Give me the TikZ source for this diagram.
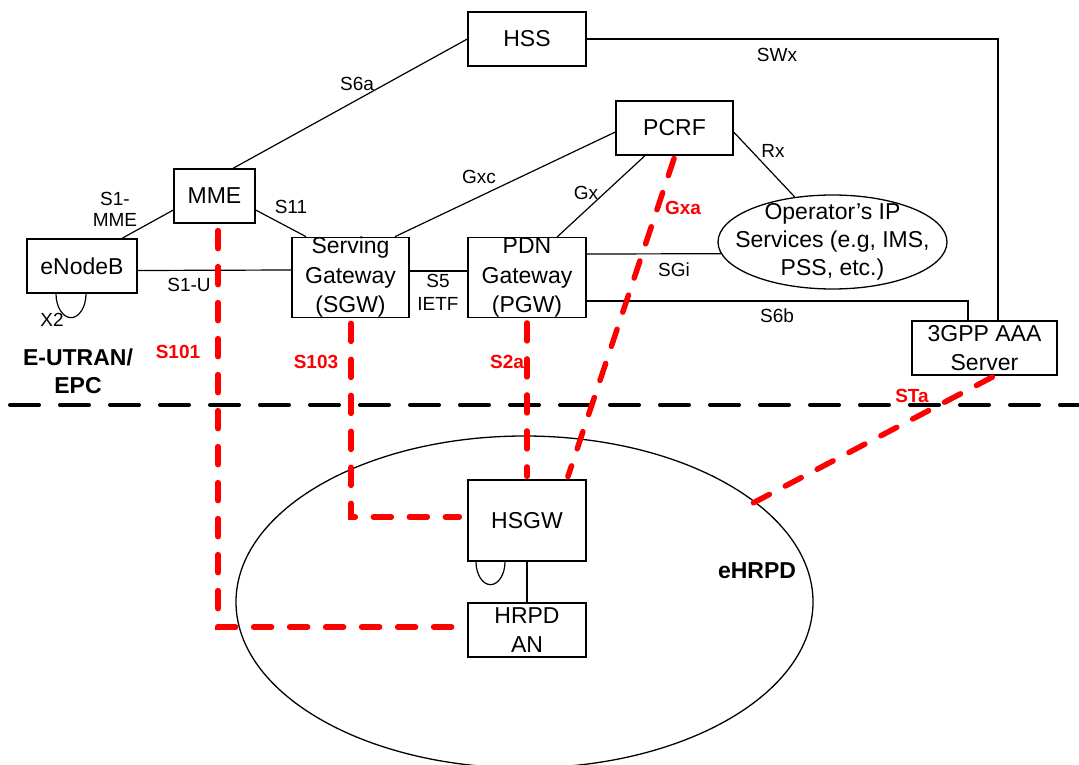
\documentclass[tikz,border=0pt]{standalone}
\usepackage{fontspec}
\setmainfont{Liberation Sans}
\usetikzlibrary{shapes.geometric}
\begin{document}
\begin{tikzpicture}[x=1pt,y=-1pt,
  box/.style={draw, line width=1.3pt, inner sep=0pt, align=center, font=\fontsize{23}{28.5}\selectfont},
  boxtext/.style={inner sep=0pt, align=center, font=\fontsize{23}{28}\selectfont},
  lbl/.style={font=\fontsize{19}{22.5}\selectfont, align=center, inner sep=0pt},
  redlbl/.style={font=\bfseries\fontsize{19}{22}\selectfont, text=red, inner sep=0pt},
  bigbold/.style={font=\bfseries\fontsize{23}{28}\selectfont, align=center, inner sep=0pt},
  link/.style={line width=1.2pt},
  redlink/.style={draw=red, line width=5.5pt, line cap=round, dash pattern=on 18pt off 18pt},
  borderline/.style={line width=4pt, line cap=round, dash pattern=on 29pt off 21pt}]
\useasboundingbox (0,0) rectangle (1079,765);

% regions
\node[draw, ellipse, line width=1.3pt, minimum width=577pt, minimum height=332pt, inner sep=0pt] (ehrpd) at (524.5,602) {};
\coordinate (bl) at (10,405);
\coordinate (br) at (1079,405);
\draw[borderline] (bl) -- (br);

% boxes
\node[box, minimum width=118pt, minimum height=54pt] (hss) at (527,39) {HSS};
\node[box, minimum width=117pt, minimum height=54pt] (pcrf) at (674.5,128) {PCRF};
\node[box, minimum width=81pt, minimum height=54pt] (mme) at (214.5,196) {MME};
\node[box, minimum width=110pt, minimum height=54pt] (enb) at (82,266) {eNodeB};
\node[box, minimum width=117pt, minimum height=79pt, font=\fontsize{23}{29.5}\selectfont] (sgw) at (350.5,277.5) {Serving\\Gateway\\(SGW)};
\node[box, minimum width=118pt, minimum height=79pt, font=\fontsize{23}{29.5}\selectfont] (pgw) at (527,277.5) {PDN\\Gateway\\(PGW)};
\node[box, minimum width=145pt, minimum height=54pt] (aaa) at (984.5,348) {3GPP AAA\\Server};
\node[box, minimum width=118pt, minimum height=81pt] (hsgw) at (527,520.5) {HSGW};
\node[box, minimum width=118pt, minimum height=54pt] (hrpd) at (527,630) {HRPD\\AN};
\node[draw, ellipse, line width=1.3pt, minimum width=229pt, minimum height=94pt, inner sep=0pt] (op) at (832.5,242) {};
\node[boxtext] (optext) at (832.5,242) {Operator’s IP\\Services (e.g, IMS,\\PSS, etc.)};

% black connectors
\draw[link] ([xshift=18.5pt]mme.north) -- (hss.west);
\draw[link] (hss.east) -| ([xshift=13.5pt]aaa.north);
\draw[link] ([yshift=-4pt]pcrf.west) -- ([xshift=44.5pt]sgw.north);
\draw[link] ([xshift=-29.5pt]pcrf.south) -- ([xshift=30pt]pgw.north);
\draw[link] ([yshift=-4pt]pcrf.east) -- (op.130);
\draw[link] ([yshift=-14pt]mme.west) -- ([xshift=40pt]enb.north);
\draw[link] ([yshift=-14pt]mme.east) -- ([xshift=-44.5pt]sgw.north);
\draw[link] ([yshift=-4.5pt]enb.east) -- ([yshift=7.5pt]sgw.west);
\draw[link] ([yshift=6.5pt]sgw.east) -- ([yshift=6.5pt]pgw.west);
\draw[link] ([yshift=23.5pt]pgw.east) -- (op.186);
\draw[link] ([yshift=-23.5pt]pgw.east) -| ([xshift=-16.5pt]aaa.north);
\draw[link] (hsgw.south) -- (hrpd.north);
\draw[link] ([xshift=-26pt]enb.south) arc[start angle=180, end angle=360, x radius=15pt, y radius=24pt];
\draw[link] ([xshift=-51pt]hsgw.south) arc[start angle=180, end angle=360, x radius=14.5pt, y radius=23pt];

% red dashed connectors
\coordinate (staend) at (753,503);
\draw[redlink, shorten <=7pt, shorten >=9pt] ([xshift=3.5pt]mme.south) |- ([yshift=3pt]hrpd.west);
\draw[redlink, shorten <=5pt, shorten >=8pt] ([xshift=0.5pt]sgw.south) |- ([yshift=3.5pt]hsgw.west);
\draw[redlink, shorten <=5pt, shorten >=3pt] (pgw.south) -- (hsgw.north);
\draw[redlink, shorten <=3pt, shorten >=3pt] ([xshift=0.5pt]pcrf.south) -- ([xshift=40pt]hsgw.north);
\draw[redlink, shorten <=3pt] ([xshift=10.5pt]aaa.south) -- (staend);

% labels
\node[lbl] (l-s6a) at (357,84) {S6a};
\node[lbl] (l-swx) at (777,55) {SWx};
\node[lbl] (l-gxc) at (479,177) {Gxc};
\node[lbl] (l-gx) at (586,193) {Gx};
\node[lbl] (l-rx) at (773,151) {Rx};
\node[lbl, font=\fontsize{19}{21}\selectfont] (l-s1mme) at (115,209) {S1-\\MME};
\node[lbl] (l-s11) at (291,207) {S11};
\node[lbl] (l-s1u) at (189,285) {S1-U};
\node[lbl] (l-x2) at (52,320) {X2};
\node[lbl, font=\fontsize{19}{23}\selectfont] (l-s5) at (438,292) {S5\\IETF};
\node[lbl] (l-sgi) at (674,270) {SGi};
\node[lbl] (l-s6b) at (777,316) {S6b};

\node[redlbl] (l-s101) at (178,352) {S101};
\node[redlbl] (l-s103) at (316,362) {S103};
\node[redlbl] (l-s2a) at (507,362) {S2a};
\node[redlbl] (l-gxa) at (683,208) {Gxa};
\node[redlbl] (l-sta) at (912,396) {STa};

\node[bigbold] (l-epc) at (78,371) {E-UTRAN/\\EPC};
\node[bigbold] (l-ehrpd) at (757,571) {eHRPD};
\end{tikzpicture}
\end{document}
